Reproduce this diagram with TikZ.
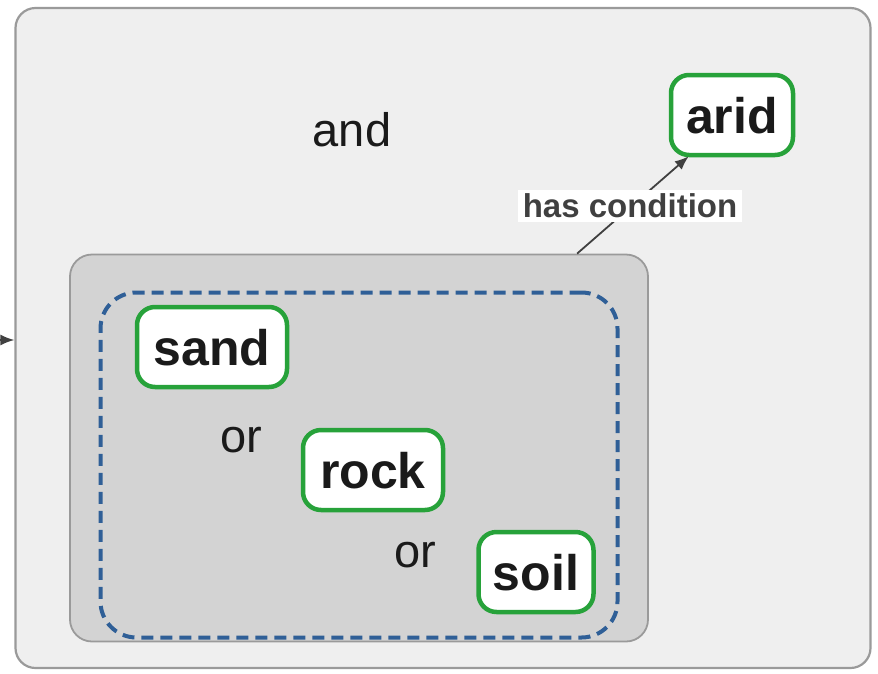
\documentclass[tikz,border=0pt]{standalone}
\usepackage{fontspec}
\setmainfont{Liberation Sans}
\usetikzlibrary{arrows.meta,calc}
\definecolor{outerfill}{HTML}{EFEFEF}
\definecolor{outerdraw}{HTML}{9A9A9A}
\definecolor{innerfill}{HTML}{D3D3D3}
\definecolor{innerdraw}{HTML}{9A9A9A}
\definecolor{dashblue}{HTML}{2F5F97}
\definecolor{leafgreen}{HTML}{27A23A}
\definecolor{conngray}{HTML}{404040}
\definecolor{txt}{HTML}{1A1A1A}
\tikzset{
  outerbox/.style={draw=outerdraw, fill=outerfill, line width=2.2pt, rounded corners=20pt, inner sep=0pt},
  innerbox/.style={draw=innerdraw, fill=innerfill, line width=1.8pt, rounded corners=22pt, inner sep=0pt},
  dashbox/.style={draw=dashblue, line width=4pt, dash pattern=on 12pt off 7pt, rounded corners=36pt, inner sep=0pt},
  leaf/.style={draw=leafgreen, fill=white, line width=4.5pt, rounded corners=18pt, inner sep=0pt,
    minimum height=80pt, font=\fontsize{50}{50}\selectfont\bfseries, text=txt, text height=36pt, text depth=0pt},
  optext/.style={font=\fontsize{47}{47}\selectfont, text=txt, inner sep=0pt},
  conn/.style={draw=conngray, line width=1.8pt, -{Latex[length=14pt,width=11pt]}},
  edgelabel/.style={fill=white, font=\fontsize{33}{33}\selectfont\bfseries, text=conngray, inner xsep=5pt, inner ysep=4pt}
}
\begin{document}
\begin{tikzpicture}[x=1pt,y=-1pt]
\useasboundingbox (0,0) rectangle (878,673);
\node[outerbox, minimum width=855pt, minimum height=660pt] (outer) at (443,338) {};
\node[innerbox, minimum width=578pt, minimum height=387pt] (inner) at (359,448) {};
\node[dashbox, minimum width=517pt, minimum height=345pt] (group) at (359,465) {};
\node[optext] (and) at (352,130) {and};
\node[leaf, minimum width=122pt] (arid) at (732,115) {arid};
\node[leaf, minimum width=150pt] (sand) at (212,347) {sand};
\node[leaf, minimum width=140pt] (rock) at (373,470) {rock};
\node[leaf, minimum width=115pt] (soil) at (536,572) {soil};
\node[optext] (or1) at (241,440) {or};
\node[optext] (or2) at (415,555) {or};
\coordinate (hcstart) at ($(inner.north west)+(508,0)$);
\coordinate (hcend) at ($(arid.south west)+(20,-1)$);
\draw[conn] (hcstart) -- (hcend);
\node[edgelabel] (hc) at (630,206) {has condition};
\coordinate (leftin) at (0,340);
\draw[conn] (leftin) -- (leftin -| outer.west);
\end{tikzpicture}
\end{document}
